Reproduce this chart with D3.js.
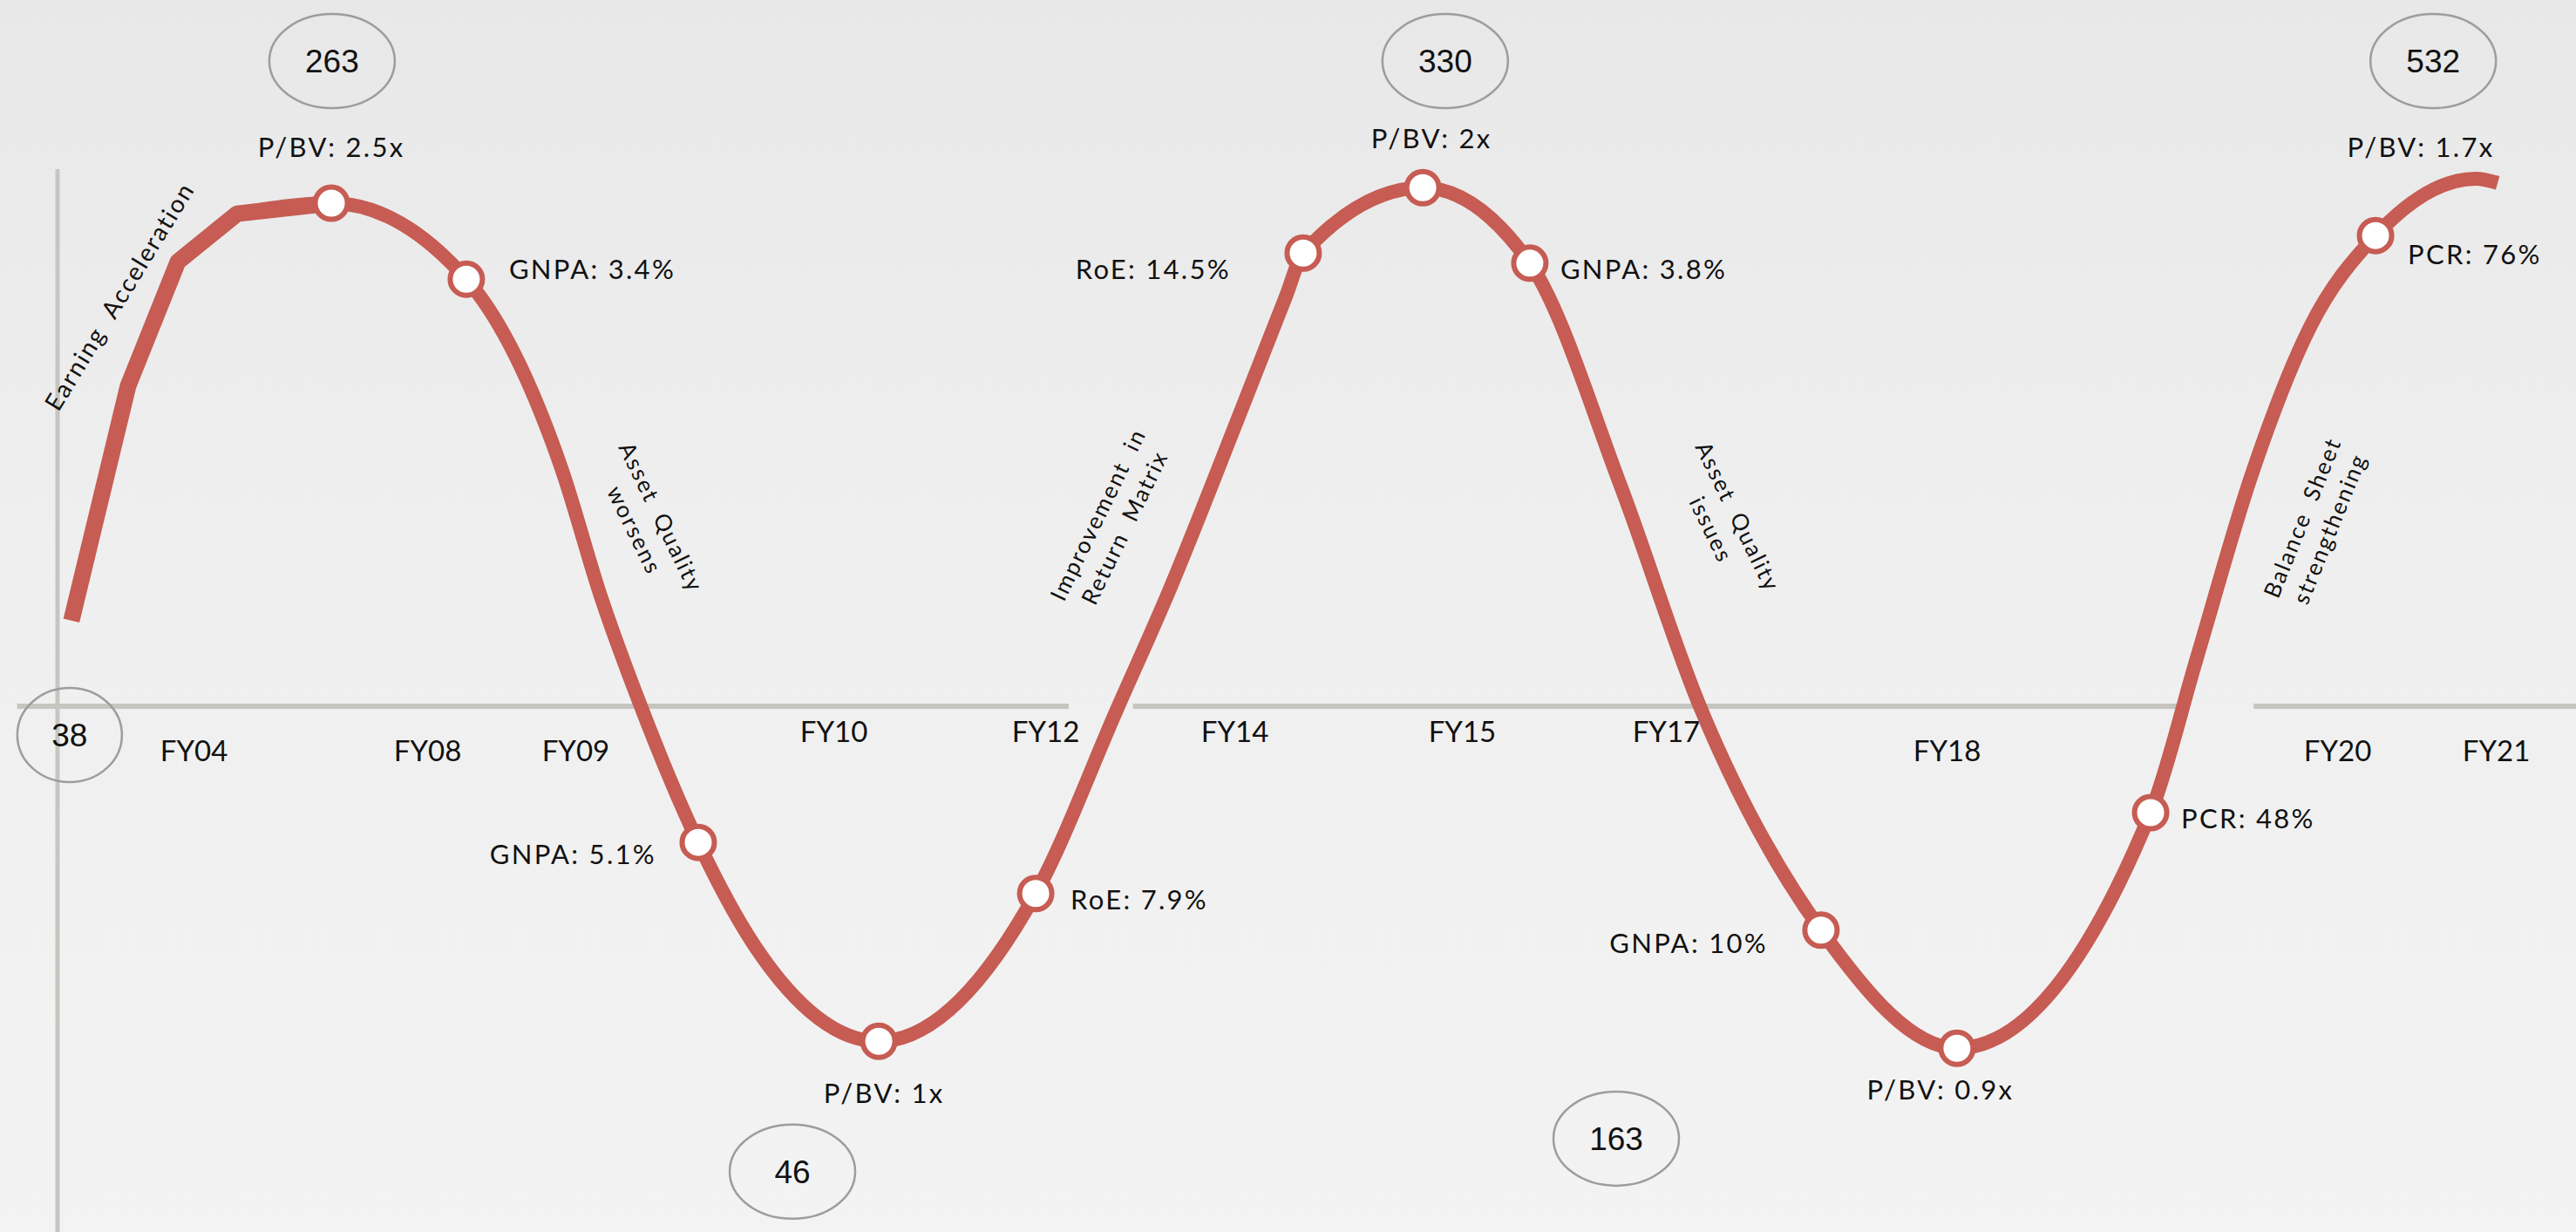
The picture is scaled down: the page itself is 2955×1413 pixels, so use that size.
<!DOCTYPE html>
<html>
<head>
<meta charset="utf-8">
<script src="https://cdn.jsdelivr.net/npm/d3@7"></script>
<style>
	html, body { margin: 0; padding: 0; background: #eeeeee; overflow: hidden; }
	svg { display: block; }
</style>
</head>
<body>
<div id="chart"></div>
<script>
let CHART_WIDTH = 2955;
let CHART_HEIGHT = 1413;

// the cycle line: position along the timeline (0-100) and level against the axis (-100..100)
var cyclePos = [0.55, 2.8, 4.78, 7.13, 10.87, 16.23, 20.04, 21.56, 23.16, 25.44, 27.73, 32.61, 38.84, 42.12,
	44.1, 46.87, 48.77, 49.46, 54.21, 58.46, 62.1, 65.21, 70.02, 75.42, 83.11, 84.94, 87.09, 89.44, 92.04, 96.02, 96.89];
var cycleLevel = [16.1, 60.2, 83.6, 92.6, 94.6, 80.3, 44.3, 20.8, 0, -25.6, -45.4, -63.0, -35.2, 0,
	21.3, 54.1, 77.0, 85.2, 97.5, 83.3, 41.0, 0, -42.1, -64.3, -20.0, 9.0, 43.1, 71.3, 88.5, 99.2, 98.4];

// points called out on the line (index into the cycle line)
var markerIndex = [4, 5, 9, 11, 12, 17, 18, 19, 22, 23, 24, 28, 29];
var markerText = ["P/BV: 2.5x", "GNPA: 3.4%", "GNPA: 5.1%", "P/BV: 1x", "RoE: 7.9%", "RoE: 14.5%", "P/BV: 2x",
	"GNPA: 3.8%", "GNPA: 10%", "P/BV: 0.9x", "PCR: 48%", "PCR: 76%", "P/BV: 1.7x"];
var markerDot = [true, true, true, true, true, true, true, true, true, true, true, true, false];

// fiscal years on the horizontal axis
var fyLabels = ["FY04", "FY08", "FY09", "FY10", "FY12", "FY14", "FY15", "FY17", "FY18", "FY20", "FY21"];
var fyPos = [5.4, 14.68, 20.56, 30.81, 39.22, 46.73, 55.76, 63.86, 75.01, 90.52, 96.82];

// circled values
var bubbleValues = [38, 263, 46, 330, 163, 532];
var bubblePos = [0.48, 10.9, 29.18, 55.1, 61.89, 94.33];
var bubbleLevel = [-5.4, 121.3, -87.5, 121.3, -81.3, 121.3];

// phases of the cycle
var phaseText = [["Earning  Acceleration"], ["Asset  Quality", "worsens"], ["Improvement  in", "Return  Matrix"],
	["Asset  Quality", "issues"], ["Balance  Sheet", "strengthening"]];
var phasePos = [2.49, 23.43, 41.85, 66.18, 89.69];
var phaseLevel = [77.0, 34.3, 34.8, 34.4, 34.4];

// ---- layout only ----
var SMOOTH_FROM = 3; // the first rise is drawn as straight strokes
var axisSegments = [[-1.6, 40.15], [42.7, 84.6], [87.2, 100]];
var fyRow = [0, 0, 0, 1, 1, 1, 1, 1, 0, 0, 0];
var labelLayout = [
	{a: "middle", dx: 0, dy: -53}, {a: "start", dx: 49, dy: 0}, {a: "end", dx: -48, dy: 25},
	{a: "middle", dx: 6, dy: 71}, {a: "start", dx: 40, dy: 18}, {a: "end", dx: -83, dy: 30},
	{a: "middle", dx: 10, dy: -45}, {a: "start", dx: 35, dy: 18}, {a: "end", dx: -61, dy: 26},
	{a: "middle", dx: -19, dy: 59}, {a: "start", dx: 35, dy: 18}, {a: "start", dx: 37, dy: 33},
	{a: "middle", dx: -63, dy: -25}
];
var phaseAngle = [-58.5, 64, -64, 64, -68];

var RED = "#c65c53";
var LABEL_FONT = "Lato, 'Open Sans', sans-serif";

const drawChart = () => {
	var svg = d3.select("#chart").append("svg")
		.attr("width", CHART_WIDTH)
		.attr("height", CHART_HEIGHT);

	var defs = svg.append("defs");
	var bg = defs.append("linearGradient").attr("id", "bg")
		.attr("x1", 0).attr("y1", 0).attr("x2", 0).attr("y2", 1);
	bg.append("stop").attr("offset", "0%").attr("stop-color", "#e8e8e8");
	bg.append("stop").attr("offset", "45%").attr("stop-color", "#efefef");
	bg.append("stop").attr("offset", "100%").attr("stop-color", "#f3f3f3");
	svg.append("rect").attr("width", CHART_WIDTH).attr("height", CHART_HEIGHT).attr("fill", "url(#bg)");

	var xScale = d3.scaleLinear().domain([0, 100]).range([66, CHART_WIDTH]);
	var yScale = d3.scaleLinear().domain([-100, 100]).range([1420, 200]);

	// axes
	svg.append("line")
		.attr("x1", xScale(0)).attr("x2", xScale(0))
		.attr("y1", yScale(101)).attr("y2", CHART_HEIGHT)
		.attr("stroke", "#c6c5c0").attr("stroke-width", 5);

	svg.selectAll(".axisSeg")
		.data(axisSegments)
		.enter().append("line")
		.attr("class", "axisSeg")
		.attr("x1", d => xScale(d[0])).attr("x2", d => xScale(d[1]))
		.attr("y1", yScale(0)).attr("y2", yScale(0))
		.attr("stroke", "#c6c5c0").attr("stroke-width", 6);

	var xAxis = d3.axisBottom(xScale)
		.tickValues(fyPos)
		.tickFormat(d => fyLabels[fyPos.indexOf(d)])
		.tickSize(0);
	var gx = svg.append("g")
		.attr("transform", "translate(0," + yScale(0) + ")")
		.call(xAxis);
	gx.select(".domain").remove();
	gx.attr("font-size", 33).attr("font-family", LABEL_FONT);
	gx.selectAll("text")
		.attr("fill", "#111")
		.attr("dy", 0)
		.attr("y", (d, i) => fyRow[i] ? 41 : 63);

	// circled values
	var bub = svg.selectAll(".bubble")
		.data(bubbleValues)
		.enter().append("g")
		.attr("class", "bubble")
		.attr("transform", (d, i) => "translate(" + xScale(bubblePos[i]) + "," + yScale(bubbleLevel[i]) + ")");
	bub.append("ellipse")
		.attr("rx", (d, i) => i === 0 ? 60 : 72)
		.attr("ry", 54)
		.attr("fill", "none")
		.attr("stroke", "#9d9d9d")
		.attr("stroke-width", 2.5);
	bub.append("text")
		.attr("text-anchor", "middle")
		.attr("dy", 13)
		.attr("font-family", "'Liberation Sans', Arial, sans-serif")
		.attr("font-size", 37)
		.attr("fill", "#111")
		.text(d => d);

	// the cycle line
	var pts = cyclePos.map((p, i) => ({x: p, y: cycleLevel[i]}));
	var straight = d3.line().x(d => xScale(d.x)).y(d => yScale(d.y)).curve(d3.curveLinear);
	var smooth = d3.line().x(d => xScale(d.x)).y(d => yScale(d.y)).curve(d3.curveMonotoneX);

	svg.append("path")
		.attr("d", straight(pts.slice(0, SMOOTH_FROM + 2)))
		.attr("fill", "none").attr("stroke", RED)
		.attr("stroke-width", 19).attr("stroke-linejoin", "round");
	svg.append("path")
		.attr("d", smooth(pts.slice(SMOOTH_FROM)))
		.attr("fill", "none").attr("stroke", RED)
		.attr("stroke-width", 16);

	// markers
	var markers = markerIndex.map((idx, i) => ({p: pts[idx], text: markerText[i], dot: markerDot[i], lay: labelLayout[i]}));
	svg.selectAll(".dot")
		.data(markers.filter(m => m.dot))
		.enter().append("circle")
		.attr("class", "dot")
		.attr("cx", d => xScale(d.p.x))
		.attr("cy", d => yScale(d.p.y))
		.attr("r", 18.5)
		.attr("fill", "#ffffff")
		.attr("stroke", RED)
		.attr("stroke-width", 6);

	svg.selectAll(".mlabel")
		.data(markers)
		.enter().append("text")
		.attr("class", "mlabel")
		.attr("x", d => xScale(d.p.x) + d.lay.dx)
		.attr("y", d => yScale(d.p.y) + d.lay.dy)
		.attr("text-anchor", d => d.lay.a)
		.attr("font-family", LABEL_FONT)
		.attr("font-size", 31)
		.attr("letter-spacing", 2.3)
		.attr("fill", "#111")
		.text(d => d.text);

	// phase notes
	var ph = svg.selectAll(".phase")
		.data(phaseText)
		.enter().append("text")
		.attr("class", "phase")
		.attr("transform", (d, i) => "translate(" + xScale(phasePos[i]) + "," + yScale(phaseLevel[i]) + ") rotate(" + phaseAngle[i] + ")")
		.attr("text-anchor", "middle")
		.attr("font-family", LABEL_FONT)
		.attr("font-size", (d, i) => i === 0 ? 28 : 26)
		.attr("letter-spacing", 2)
		.attr("fill", "#111");
	ph.each(function (lines) {
		var t = d3.select(this);
		lines.forEach(function (line, k) {
			t.append("tspan")
				.attr("x", 0)
				.attr("y", lines.length === 1 ? 9 : (k === 0 ? -8 : 26))
				.style("white-space", "pre")
				.text(line);
		});
	});
};

drawChart();
</script>
</body>
</html>
